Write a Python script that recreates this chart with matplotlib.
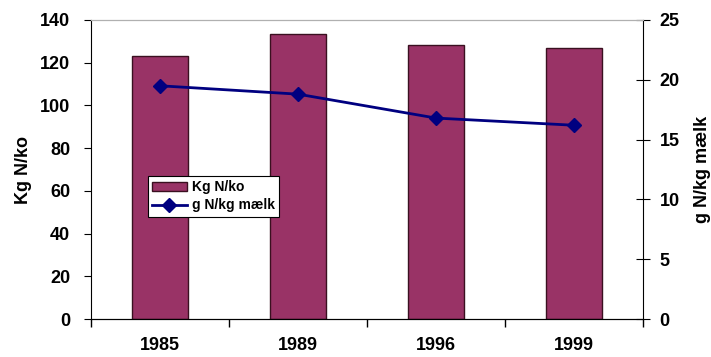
import matplotlib.pyplot as plt
import numpy as np

years = ["1985", "1989", "1996", "1999"]
kg_n_ko = [123, 133.5, 128.5, 127]
g_n_kg_maelk = [19.5, 18.8, 16.8, 16.2]

plt.rcParams['font.family'] = ['Liberation Sans', 'DejaVu Sans']
plt.rcParams['font.weight'] = 'bold'

fig = plt.figure(figsize=(7.11, 3.57), dpi=100)
ax = fig.add_axes([91/711, 1-319/357, 552/711, 299/357])
x = np.arange(len(years))

bars = ax.bar(x, kg_n_ko, width=0.4, color="#993366", edgecolor="#3a1020",
              linewidth=1, label="Kg N/ko", zorder=2)
ax.set_ylim(0, 140)
ax.set_xlim(-0.5, 3.5)
ax.set_yticks(range(0, 141, 20))
ax.set_xticks(x)
ax.set_xticklabels(years)
ax.set_xticks(np.arange(-0.5, 4.0, 1), minor=True)
ax.tick_params(axis="x", which="major", length=0, labelsize=13, pad=13)
ax.tick_params(axis="x", which="minor", length=6, width=1, direction="out")
ax.tick_params(axis="y", labelsize=13, length=5, direction="out", pad=10)
ax.set_ylabel("Kg N/ko", fontsize=13, fontweight="bold", labelpad=6)
ax.spines["top"].set_color("#b0b0b0")
ax.spines["right"].set_visible(False)

ax2 = ax.twinx()
line, = ax2.plot(x, g_n_kg_maelk, color="#000080", marker="D", markersize=7,
                 linewidth=2, label="g N/kg mælk", zorder=3)
ax2.set_ylim(0, 25)
ax2.set_yticks(range(0, 26, 5))
ax2.tick_params(axis="y", labelsize=13, length=10, direction="inout", pad=7)
ax2.set_ylabel("g N/kg mælk", fontsize=13, fontweight="bold", labelpad=10)
ax2.spines["top"].set_color("#b0b0b0")
ax2.spines["left"].set_visible(False)

leg = ax2.legend([bars, line], ["Kg N/ko", "g N/kg mælk"],
                 loc="upper left", bbox_to_anchor=(0.103, 0.478),
                 borderaxespad=0, fancybox=False, edgecolor="black",
                 framealpha=1, borderpad=0.3, handlelength=2.5,
                 handletextpad=0.4, labelspacing=0.3,
                 prop={'weight': 'bold', 'size': 10})
leg.get_frame().set_linewidth(0.8)

fig.savefig("out.png", dpi=100)
